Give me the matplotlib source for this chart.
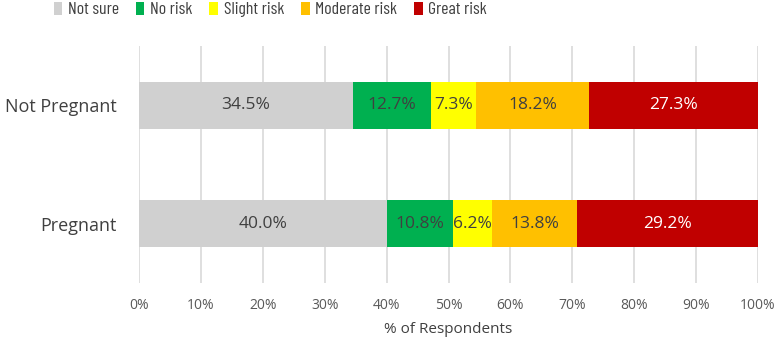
import matplotlib
matplotlib.use("Agg")
import matplotlib.pyplot as plt
import numpy as np

plt.rcParams['font.family'] = ['Open Sans', 'DejaVu Sans']

categories = ["Pregnant", "Not Pregnant"]
series_names = ["Not sure", "No risk", "Slight risk", "Moderate risk", "Great risk"]
not_sure = [40.0, 34.5]
no_risk = [10.8, 12.7]
slight_risk = [6.2, 7.3]
moderate_risk = [13.8, 18.2]
great_risk = [29.2, 27.3]
series_values = [not_sure, no_risk, slight_risk, moderate_risk, great_risk]
colors = ["#D0D0D0", "#00B050", "#FFFF00", "#FFC000", "#C00000"]
label_colors = ["#404040", "#404040", "#404040", "#404040", "#FFFFFF"]
xticks = [0, 10, 20, 30, 40, 50, 60, 70, 80, 90, 100]
xtick_labels = [f"{t}%" for t in xticks]

fig = plt.figure(figsize=(7.78, 3.39), dpi=100)
ax = fig.add_axes([0.1787, 0.1652, 0.7956, 0.6991])

y = np.arange(len(categories))
left = np.zeros(len(categories))
for name, vals, c, lc in zip(series_names, series_values, colors, label_colors):
    vals = np.array(vals)
    ax.barh(y, vals, left=left, height=0.4, color=c, label=name, zorder=3)
    for yi, (l, v) in enumerate(zip(left, vals)):
        ax.text(l + v / 2, yi, f"{v:.1f}%", ha="center", va="center",
                fontsize=12.5, color=lc, zorder=4)
    left += vals

ax.set_xlim(0, 100)
ax.set_ylim(-0.5, 1.5)
ax.set_xticks(xticks)
ax.set_xticklabels(xtick_labels, fontsize=10, color="#595959")
ax.set_yticks(y)
ax.set_yticklabels(categories, fontsize=13, color="#404040")
ax.tick_params(axis="both", length=0)
ax.tick_params(axis="x", pad=11)
ax.tick_params(axis="y", pad=16)
ax.grid(axis="x", color="#D9D9D9", linewidth=1.2, zorder=0)
for s in ax.spines.values():
    s.set_visible(False)
ax.set_xlabel("% of Respondents", fontsize=11, color="#404040", labelpad=6)

leg = fig.legend(loc="center left", bbox_to_anchor=(0.069, 0.972), ncol=5, frameon=False,
                 prop={'family': ['Barlow Condensed', 'DejaVu Sans'], 'size': 12.8},
                 handlelength=0.48, handleheight=0.8,
                 handletextpad=0.32, columnspacing=0.95, labelcolor="#404040",
                 borderaxespad=0, borderpad=0)

fig.savefig("out.png", dpi=100)
